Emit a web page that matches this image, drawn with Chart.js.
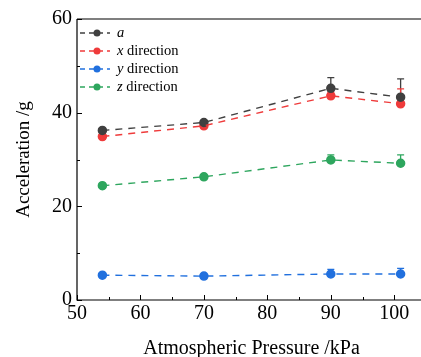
<!DOCTYPE html>
<html lang="en">
<head>
    <meta charset="UTF-8">
    <title>Acceleration vs Atmospheric Pressure</title>
    <script src="https://cdn.jsdelivr.net/npm/chart.js"></script>
    <style>
        html, body { margin: 0; padding: 0; background: #fff; overflow: hidden; }
        .wrap { width: 440px; height: 357px; }
    </style>
</head>
<body>
    <div class="wrap"><canvas id="accChart" width="440" height="357"></canvas></div>

    <script>
        // Daten
        const pressure = [54, 70, 90, 101];
        const accA = [36.2, 37.9, 45.2, 43.3];
        const accX = [34.9, 37.2, 43.6, 41.9];
        const accY = [5.3, 5.1, 5.55, 5.55];
        const accZ = [24.4, 26.3, 29.9, 29.2];
        // Fehlerbalken (nur nach oben sichtbar)
        const errA = [0.4, 0.4, 2.3, 3.9];
        const errX = [0.3, 0.3, 0.8, 3.2];
        const errY = [0.2, 0.2, 1.0, 1.2];
        const errZ = [0.2, 0.2, 1.1, 1.8];
        const xTicks = [50, 60, 70, 80, 90, 100];
        const yTicks = [0, 20, 40, 60];
        const legendNames = [['a', ''], ['x', ' direction'], ['y', ' direction'], ['z', ' direction']];
        const errors = [errA, errX, errY, errZ];

        const serif = '"Liberation Serif", "Times New Roman", serif';

        function makeSet(label, values, color) {
            return {
                label: label,
                data: pressure.map((p, i) => ({ x: p, y: values[i] })),
                borderColor: color,
                backgroundColor: color,
                borderWidth: 1.5,
                showLine: false,
                pointRadius: 4,
                pointBorderColor: color,
                pointBackgroundColor: color
            };
        }

        // Fehlerbalken, gestrichelte Verbindungslinien, Rahmen, Ticks nach innen, Legende
        const extras = {
            id: 'extras',
            beforeDatasetsDraw(chart) {
                const ctx = chart.ctx;
                const xs = chart.scales.x, ys = chart.scales.y;
                chart.data.datasets.forEach((ds, k) => {
                    ctx.save();
                    ctx.strokeStyle = ds.borderColor;
                    ctx.lineWidth = 1.3;
                    ds.data.forEach((pt, i) => {
                        const px = xs.getPixelForValue(pt.x);
                        const y0 = ys.getPixelForValue(pt.y);
                        const y1 = ys.getPixelForValue(pt.y + errors[k][i]);
                        ctx.beginPath();
                        ctx.moveTo(px, y0);
                        ctx.lineTo(px, y1);
                        ctx.moveTo(px - 3.5, y1);
                        ctx.lineTo(px + 3.5, y1);
                        ctx.stroke();
                    });
                    ctx.restore();
                });
            },
            afterDraw(chart) {
                const ctx = chart.ctx;
                const a = chart.chartArea;
                const xs = chart.scales.x, ys = chart.scales.y;
                ctx.save();

                // Verbindungslinien gestrichelt (gleiche Farbe wie Punkte)
                chart.data.datasets.forEach(ds => {
                    ctx.strokeStyle = ds.borderColor;
                    ctx.lineWidth = 1.4;
                    ctx.setLineDash([7, 6]);
                    ctx.beginPath();
                    ds.data.forEach((pt, i) => {
                        const px = xs.getPixelForValue(pt.x);
                        const py = ys.getPixelForValue(pt.y);
                        if (i === 0) ctx.moveTo(px, py); else ctx.lineTo(px, py);
                    });
                    ctx.stroke();
                });
                ctx.setLineDash([]);

                ctx.strokeStyle = '#000';
                ctx.lineWidth = 1.2;
                ctx.beginPath();
                ctx.moveTo(a.left, a.top);
                ctx.lineTo(a.right, a.top);
                ctx.moveTo(a.left, a.top);
                ctx.lineTo(a.left, a.bottom);
                ctx.lineTo(a.right, a.bottom);
                ctx.stroke();

                ctx.lineWidth = 1;
                ctx.beginPath();
                for (let v = 0; v <= 60; v += 10) {
                    const py = Math.round(ys.getPixelForValue(v)) + 0.5;
                    const len = v % 20 === 0 ? 5 : 3;
                    ctx.moveTo(a.left, py);
                    ctx.lineTo(a.left + len, py);
                }
                for (let v = 50; v <= 105; v += 5) {
                    const px = Math.round(xs.getPixelForValue(v)) + 0.5;
                    const len = v % 10 === 0 ? 5 : 3;
                    ctx.moveTo(px, a.bottom);
                    ctx.lineTo(px, a.bottom - len);
                }
                ctx.stroke();

                // Legende
                chart.data.datasets.forEach((ds, i) => {
                    const ly = 33 + i * 18;
                    const lx = 80;
                    ctx.strokeStyle = ds.borderColor;
                    ctx.lineWidth = 1.3;
                    ctx.setLineDash([5, 4]);
                    ctx.beginPath();
                    ctx.moveTo(lx, ly);
                    ctx.lineTo(lx + 30, ly);
                    ctx.stroke();
                    ctx.setLineDash([]);
                    ctx.fillStyle = ds.borderColor;
                    ctx.beginPath();
                    ctx.arc(lx + 17, ly, 3.5, 0, Math.PI * 2);
                    ctx.fill();

                    ctx.fillStyle = '#000';
                    ctx.textBaseline = 'middle';
                    ctx.textAlign = 'left';
                    ctx.font = 'italic 14.5px ' + serif;
                    const tx = lx + 37;
                    ctx.fillText(legendNames[i][0], tx, ly);
                    const w = ctx.measureText(legendNames[i][0]).width;
                    ctx.font = '14.5px ' + serif;
                    ctx.fillText(legendNames[i][1], tx + w, ly);
                });
                ctx.restore();
            }
        };

        const ctx = document.getElementById('accChart').getContext('2d');
        new Chart(ctx, {
            type: 'line',
            data: {
                datasets: [
                    makeSet('a', accA, '#404040'),
                    makeSet('x direction', accX, '#ef3b3b'),
                    makeSet('y direction', accY, '#2170de'),
                    makeSet('z direction', accZ, '#2ea65e')
                ]
            },
            options: {
                responsive: false,
                animation: false,
                layout: { padding: { top: 19, right: 14, left: 13, bottom: 0 } },
                plugins: {
                    legend: { display: false },
                    tooltip: { enabled: false }
                },
                scales: {
                    x: {
                        type: 'linear',
                        min: 50,
                        max: 105,
                        grid: { display: false, drawTicks: false },
                        border: { display: false },
                        afterBuildTicks: s => { s.ticks = xTicks.map(v => ({ value: v })); },
                        ticks: {
                            autoSkip: false,
                            maxRotation: 0,
                            color: '#000',
                            font: { family: serif, size: 20 },
                            padding: 2
                        },
                        title: {
                            display: true,
                            text: 'Atmospheric Pressure /kPa',
                            color: '#000',
                            font: { family: serif, size: 20, lineHeight: 1 },
                            padding: { top: 10, bottom: -2 }
                        },
                        afterFit: s => { s.height = 57; }
                    },
                    y: {
                        min: 0,
                        max: 60,
                        grid: { display: false, drawTicks: false },
                        border: { display: false },
                        afterBuildTicks: s => { s.ticks = yTicks.map(v => ({ value: v })); },
                        ticks: {
                            autoSkip: false,
                            color: '#000',
                            font: { family: serif, size: 20 },
                            padding: 5
                        },
                        title: {
                            display: true,
                            text: 'Acceleration /g',
                            color: '#000',
                            font: { family: serif, size: 19 },
                            padding: { top: 0, bottom: 4 }
                        },
                        afterFit: s => { s.width = 64; }
                    }
                }
            },
            plugins: [extras]
        });
    </script>
</body>
</html>
